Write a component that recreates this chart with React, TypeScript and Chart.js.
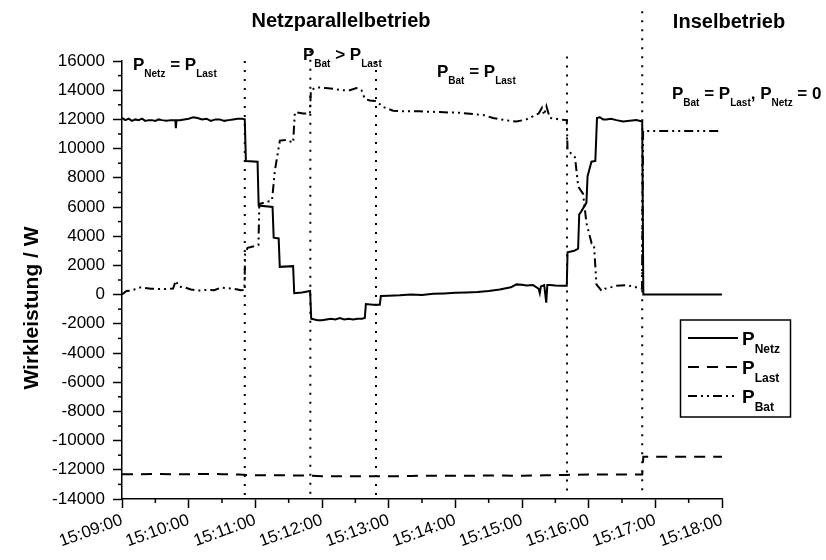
import React, { useEffect, useRef } from 'react';
import { Chart, registerables } from 'chart.js';

Chart.register(...registerables);

const FONT = "'Liberation Sans', Arial, Helvetica, sans-serif";

// time axis: seconds after 15:09:00
const tNetz = [0, 3, 6, 9, 12, 15, 18, 21, 24, 27, 30, 33, 36, 40, 44, 48, 48.5, 49, 52, 56, 60, 64, 68, 72, 76, 80, 84, 88, 92, 96, 100, 104, 108, 110.5,
  111.5, 122, 123, 135.5, 136.5, 141, 142, 154, 155, 162, 169.3, 170.3,
  176, 180, 184, 188, 192, 196, 200, 204, 208, 212, 216, 218.5, 219.5, 226, 232, 233,
  240, 250, 260, 270, 280, 290, 300, 310, 320, 330, 340, 350, 355, 360, 364, 370, 375, 376, 377, 380, 381.8, 382.8, 385, 390, 395, 400.3,
  401, 407, 410.5, 411.5, 413, 418, 419, 422.5, 426, 427.5, 430, 433, 436, 440, 445, 451, 457, 463, 468.2, 469.2, 540];
const pNetz = [12100, 11950, 12050, 11900, 12000, 11950, 12050, 11900, 11950, 11950, 11900, 12000, 11950, 11900, 11950, 11950, 11400, 11950, 11950, 12000, 12050, 12150, 12100, 12000, 12050, 11900, 12000, 12000, 11900, 11950, 12000, 12050, 12050, 12000,
  9150, 9100, 6100, 6000, 3900, 3850, 1900, 1950, 100, 150, 250, -1650,
  -1750, -1750, -1700, -1650, -1700, -1600, -1700, -1650, -1700, -1650, -1650, -1600, -650, -700, -700, -100,
  -80, -50, 0, -20, 50, 80, 120, 150, 170, 250, 350, 500, 700, 680, 620, 650, 400, 100, 550, 650, -550, 650, 650, 620, 600, 600,
  2900, 3000, 3150, 5500, 5650, 6300, 8100, 9100, 9150, 12100, 12150, 12000, 12000, 12050, 11950, 11850, 11900, 11950, 11850, 0, 0];

const tLast = [0, 15, 30, 45, 60, 75, 90, 105, 120, 135, 150, 165, 180, 200, 220, 240, 260, 280, 300, 320, 340, 360, 380, 400, 420, 440, 468.2, 469.2, 540];
const pLast = [-12300, -12300, -12280, -12300, -12300, -12280, -12300, -12320, -12380, -12380, -12380, -12400, -12440, -12450, -12440, -12450, -12420, -12400, -12410, -12400, -12390, -12410, -12380, -12350, -12330, -12320, -12320, -11100, -11100];

const tBat = [0, 4, 8, 17, 26, 38, 46, 48.5, 51, 56, 62, 68, 77, 83, 89, 98, 104, 107, 110.2,
  110.8, 113, 118, 122.8, 123.6, 128, 135, 137.6, 142.1, 148, 154, 155.6, 163, 169.1,
  170, 175, 183, 190, 198, 205, 211, 215.5, 218.6, 223, 229, 235, 244, 255, 268, 286, 304, 325, 334, 345, 355, 364, 375, 378, 380, 382, 385, 394, 400.3,
  401, 407.7, 410.6, 415, 418, 422.7, 424.8, 427, 431.7, 434.6, 445, 454, 460, 468, 469, 539];
const pBat = [0, 250, 270, 500, 400, 380, 420, 950, 550, 500, 350, 270, 330, 300, 480, 420, 350, 300, 330,
  2800, 3200, 3300, 3400, 6200, 6300, 6450, 8500, 10550, 10600, 10400, 12500, 12400, 12400,
  14000, 14200, 14150, 14100, 14000, 14000, 14150, 14000, 13400, 13300, 13250, 12850, 12600, 12550, 12550, 12500, 12450, 12300, 12100, 11950, 11850, 12000, 12400, 12800, 12300, 12900, 12100, 12000, 11950,
  9900, 9400, 7400, 6900, 4900, 3500, 3400, 700, 250, 400, 600, 650, 550, 400, 11200, 11200];

const phaseTimes = [110.5, 169.5, 228.6, 400.5, 468.2];
const phaseTopValues = [16000, 16700, 16000, 16300, 19400];

const seriesNames = ['Netz', 'Last', 'Bat'];

const X_MIN = 0;
const X_MAX = 540;
const Y_MIN = -14000;
const Y_MAX = 16000;

function fmtTime(v: number): string {
  const m = 9 + Math.round(v / 60);
  return `15:${String(m).padStart(2, '0')}:00`;
}

type Part = [string, boolean];

function drawRich(ctx: CanvasRenderingContext2D, x: number, y: number, parts: Part[], big: number, small: number, drop: number) {
  let cx = x;
  ctx.textAlign = 'left';
  ctx.textBaseline = 'alphabetic';
  for (const [txt, sub] of parts) {
    ctx.font = `bold ${sub ? small : big}px ${FONT}`;
    ctx.fillText(txt, cx, sub ? y + drop : y);
    cx += ctx.measureText(txt).width;
  }
}

const decorPlugin = {
  id: 'decor',
  afterDraw(chart: any) {
    const ctx: CanvasRenderingContext2D = chart.ctx;
    const xs = chart.scales.x;
    const ys = chart.scales.y;
    const area = chart.chartArea;
    ctx.save();
    ctx.strokeStyle = '#000';
    ctx.fillStyle = '#000';
    ctx.lineWidth = 1.5;
    const line = (x1: number, y1: number, x2: number, y2: number) => {
      ctx.beginPath();
      ctx.moveTo(x1, y1);
      ctx.lineTo(x2, y2);
      ctx.stroke();
    };
    // minor ticks
    xs.ticks.forEach((tk: any) => {
      if (tk.value % 60 !== 0) {
        const px = xs.getPixelForValue(tk.value);
        line(px, area.bottom, px, area.bottom + 4);
      }
    });
    ys.ticks.forEach((tk: any) => {
      if (tk.value % 2000 !== 0) {
        const py = ys.getPixelForValue(tk.value);
        line(area.left - 4, py, area.left, py);
      }
    });
    // phase boundaries
    ctx.setLineDash([2, 7]);
    ctx.lineWidth = 2;
    phaseTimes.forEach((t, i) => {
      const px = xs.getPixelForValue(t);
      line(px, ys.getPixelForValue(phaseTopValues[i]), px, area.bottom - 2);
    });
    ctx.setLineDash([]);

    // titles
    ctx.font = `bold 20px ${FONT}`;
    ctx.textAlign = 'center';
    ctx.textBaseline = 'alphabetic';
    ctx.fillText('Netzparallelbetrieb', 341, 27);
    ctx.fillText('Inselbetrieb', 729, 28);

    // annotations
    drawRich(ctx, 133, 70, [['P', false], ['Netz', true], [' = P', false], ['Last', true]], 17, 10, 7);
    drawRich(ctx, 303, 60, [['P', false], ['Bat', true], [' > P', false], ['Last', true]], 17, 10, 7);
    drawRich(ctx, 437, 77, [['P', false], ['Bat', true], [' = P', false], ['Last', true]], 17, 10, 7);
    drawRich(ctx, 672, 99, [['P', false], ['Bat', true], [' = P', false], ['Last', true], [', P', false], ['Netz', true], [' = 0', false]], 17, 10, 7);

    // y title
    ctx.save();
    ctx.translate(32, 308);
    ctx.rotate(-Math.PI / 2);
    ctx.font = `bold 21px ${FONT}`;
    ctx.textAlign = 'center';
    ctx.textBaseline = 'middle';
    ctx.fillText('Wirkleistung / W', 0, 0);
    ctx.restore();

    // legend
    ctx.lineWidth = 1.5;
    ctx.strokeRect(680.5, 320, 110, 97);
    chart.data.datasets.forEach((ds: any, i: number) => {
      const yy = 338 + i * 29;
      ctx.save();
      ctx.lineWidth = ds.borderWidth;
      ctx.setLineDash(ds.borderDash || []);
      line(688, yy, 738, yy);
      ctx.restore();
      drawRich(ctx, 742, yy + 7, [['P', false], [seriesNames[i], true]], 19, 12, 8);
    });
    ctx.restore();
  },
};

export default function App() {
  const ref = useRef<HTMLCanvasElement>(null);
  useEffect(() => {
    if (!ref.current) return;
    const mk = (ts: number[], ps: number[]) => ts.map((t, i) => ({ x: t, y: ps[i] }));
    const chart = new Chart(ref.current, {
      type: 'line',
      data: {
        datasets: [
          { label: 'P_Netz', data: mk(tNetz, pNetz), borderColor: '#000', borderWidth: 2, pointRadius: 0, tension: 0, fill: false },
          { label: 'P_Last', data: mk(tLast, pLast), borderColor: '#000', borderWidth: 2, borderDash: [11, 8], pointRadius: 0, tension: 0, fill: false },
          { label: 'P_Bat', data: mk(tBat, pBat), borderColor: '#000', borderWidth: 2, borderDash: [9, 4, 2, 4, 2, 4], pointRadius: 0, tension: 0, fill: false },
        ],
      },
      options: {
        responsive: false,
        animation: false,
        events: [],
        layout: { padding: { top: 61, right: 104, left: 0, bottom: 0 } },
        plugins: { legend: { display: false }, tooltip: { enabled: false }, title: { display: false } },
        scales: {
          x: {
            type: 'linear',
            min: X_MIN,
            max: X_MAX,
            afterFit: (s: any) => { s.height = 61; },
            border: { display: true, color: '#000', width: 1.5 },
            grid: {
              display: true,
              drawOnChartArea: false,
              drawTicks: true,
              tickLength: 9,
              tickWidth: 1.5,
              tickColor: (c: any) => (c.tick && c.tick.value % 60 === 0 ? '#000' : 'rgba(0,0,0,0)'),
            },
            ticks: {
              stepSize: 30,
              autoSkip: false,
              minRotation: 20,
              maxRotation: 20,
              padding: 2,
              color: '#000',
              font: { family: FONT, size: 17 },
              callback: (v: any) => (Number(v) % 60 === 0 ? fmtTime(Number(v)) : ''),
            },
          },
          y: {
            type: 'linear',
            min: Y_MIN,
            max: Y_MAX,
            afterFit: (s: any) => { s.width = 122; },
            border: { display: true, color: '#000', width: 1.5 },
            grid: {
              display: true,
              drawOnChartArea: false,
              drawTicks: true,
              tickLength: 9,
              tickWidth: 1.5,
              tickColor: (c: any) => (c.tick && c.tick.value % 2000 === 0 ? '#000' : 'rgba(0,0,0,0)'),
            },
            ticks: {
              stepSize: 1000,
              autoSkip: false,
              padding: 8,
              color: '#000',
              font: { family: FONT, size: 17 },
              callback: (v: any) => (Number(v) % 2000 === 0 ? String(v) : ''),
            },
          },
        },
      },
      plugins: [decorPlugin],
    });
    return () => chart.destroy();
  }, []);
  return (
    <div style={{ position: 'fixed', left: 0, top: 0, width: 826, height: 560, background: '#fff' }}>
      <canvas ref={ref} width={826} height={560} style={{ display: 'block' }} />
    </div>
  );
}
